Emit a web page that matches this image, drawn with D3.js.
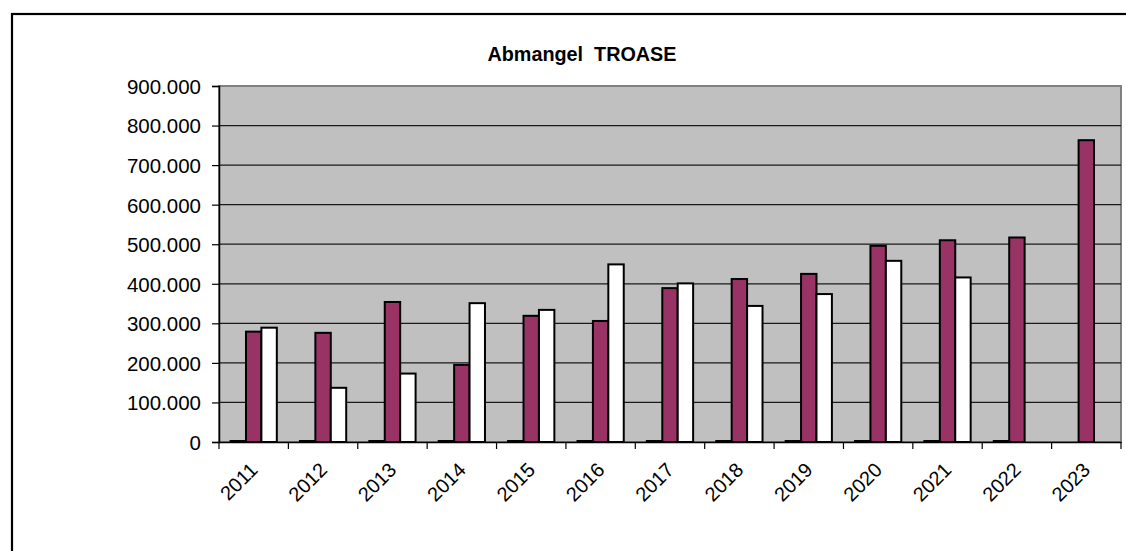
<!DOCTYPE html>
<html>
<head>
<meta charset="utf-8">
<script src="https://cdn.jsdelivr.net/npm/d3@7"></script>
<style>
  html, body { margin: 0; padding: 0; background: #fff; }
  svg { display: block; }
  text { font-family: "Liberation Sans", Arial, sans-serif; fill: #000; }
</style>
</head>
<body>
<svg id="chart" width="1126" height="551"></svg>
<script>
const title = "Abmangel  TROASE";
const years = ["2011","2012","2013","2014","2015","2016","2017","2018","2019","2020","2021","2022","2023"];
const seriesNames = ["A", "B", "C"];
const seriesA = [0, 0, 0, 0, 0, 0, 0, 0, 0, 0, 0, 0, null];
const seriesB = [279000, 276000, 354000, 195000, 319000, 306000, 389000, 412000, 425000, 496000, 510000, 517000, 763000];
const seriesC = [289000, 137000, 173000, 351000, 334000, 449000, 401000, 344000, 374000, 458000, 416000, null, null];
const seriesColors = ["#000000", "#993366", "#ffffff"];
const yTicks = [0, 100000, 200000, 300000, 400000, 500000, 600000, 700000, 800000, 900000];

const svg = d3.select("#chart");
const W = 1126, H = 551;
const plot = { left: 219, top: 86, right: 1121, bottom: 442 };

// outer chart border (extends beyond the visible window)
svg.append("rect")
  .attr("x", 12).attr("y", 14)
  .attr("width", W + 50).attr("height", H + 50)
  .attr("fill", "#fff").attr("stroke", "#000").attr("stroke-width", 2.2);

const x = d3.scaleBand().domain(years).range([plot.left, plot.right]).padding(0);
const bw = x.bandwidth();
const xs = d3.scaleBand().domain(seriesNames).range([bw / 6, bw * 5 / 6]).padding(0);
const y = d3.scaleLinear().domain([0, 900000]).range([plot.bottom, plot.top]);

// plot background
svg.append("rect")
  .attr("x", plot.left).attr("y", plot.top)
  .attr("width", plot.right - plot.left).attr("height", plot.bottom - plot.top)
  .attr("fill", "#c0c0c0").attr("stroke", "#808080").attr("stroke-width", 2);

// gridlines
svg.append("g")
  .selectAll("line")
  .data(yTicks.filter(d => d > 0 && d < 900000))
  .join("line")
  .attr("x1", plot.left).attr("x2", plot.right)
  .attr("y1", d => y(d)).attr("y2", d => y(d))
  .attr("stroke", "#1a1a1a").attr("stroke-width", 1.2);

// bars
const allSeries = [seriesA, seriesB, seriesC];
const barData = [];
years.forEach((yr, i) => {
  allSeries.forEach((s, j) => {
    if (s[i] !== null && s[i] !== undefined) {
      barData.push({ year: yr, series: seriesNames[j], value: s[i], color: seriesColors[j] });
    }
  });
});
svg.append("g")
  .selectAll("rect")
  .data(barData)
  .join("rect")
  .attr("x", d => x(d.year) + xs(d.series))
  .attr("width", xs.bandwidth())
  .attr("y", d => Math.min(y(d.value), y(0) - 1))
  .attr("height", d => Math.max(y(0) - y(d.value), 1))
  .attr("fill", d => d.color)
  .attr("stroke", "#000")
  .attr("stroke-width", 2);

// y axis
const yAxis = d3.axisLeft(y)
  .tickValues(yTicks)
  .tickSize(7)
  .tickPadding(11)
  .tickFormat(d => d === 0 ? "0" : d3.format(",")(d).replace(/,/g, "."));
const gy = svg.append("g").attr("transform", `translate(${plot.left},0)`).call(yAxis);
gy.select(".domain").attr("stroke", "#000").attr("stroke-width", 1.5);
gy.selectAll(".tick line").attr("stroke", "#000").attr("stroke-width", 1.2);
gy.selectAll(".tick text")
  .attr("font-family", "'Liberation Sans', Arial, sans-serif")
  .attr("font-size", 20.5).attr("fill", "#000")
  .attr("dy", "0.36em");

// x axis
const xAxis = d3.axisBottom(x).tickSize(0).tickFormat(d => d);
const gx = svg.append("g").attr("transform", `translate(0,${plot.bottom})`).call(xAxis);
gx.select(".domain").attr("stroke", "#000").attr("stroke-width", 1.5);
gx.selectAll(".tick text")
  .attr("font-family", "'Liberation Sans', Arial, sans-serif")
  .attr("font-size", 20).attr("fill", "#000")
  .attr("text-anchor", "end")
  .attr("transform", "translate(-5,19) rotate(-45)")
  .attr("dx", 0).attr("dy", "0.72em")
  .attr("y", 0);
// category boundary tick marks
svg.append("g")
  .selectAll("line")
  .data(years.concat(["end"]))
  .join("line")
  .attr("x1", (d, i) => plot.left + i * bw)
  .attr("x2", (d, i) => plot.left + i * bw)
  .attr("y1", plot.bottom).attr("y2", plot.bottom + 7)
  .attr("stroke", "#000").attr("stroke-width", 1.2);

// title
svg.append("text")
  .attr("x", 582).attr("y", 61)
  .attr("text-anchor", "middle")
  .attr("font-weight", "bold")
  .attr("font-size", 19.8)
  .style("white-space", "pre")
  .text(title);
</script>
</body>
</html>
